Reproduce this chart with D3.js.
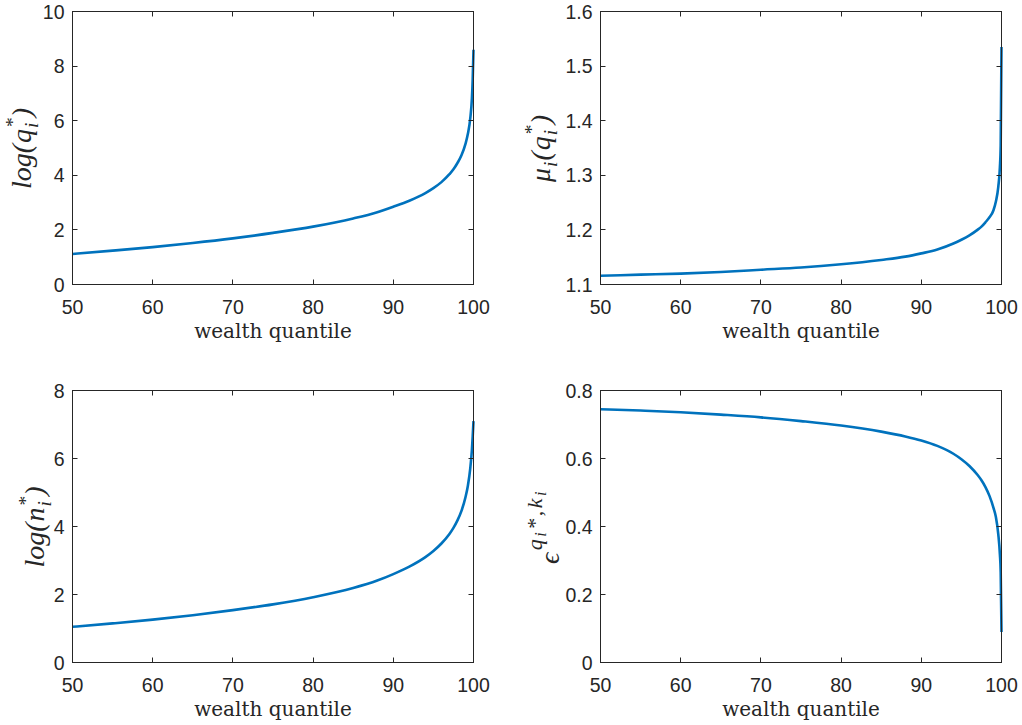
<!DOCTYPE html>
<html>
<head>
<meta charset="utf-8">
<script src="https://cdn.jsdelivr.net/npm/d3@7"></script>
<style>
html,body{margin:0;padding:0;background:#fff;}
svg{display:block;}
</style>
</head>
<body>
<svg id="chart" width="1022" height="725"></svg>
<script>
// ---------- data ----------
const quantiles = [50,55,60,65,70,75,80,85,88,90,92,94,95,96,97,97.5,98,98.5,99,99.3,99.6,99.8,99.9,100];
const logQ   = [1.12,1.24,1.37,1.52,1.69,1.89,2.12,2.42,2.65,2.85,3.07,3.35,3.53,3.75,4.04,4.22,4.45,4.73,5.15,5.52,6.09,6.81,7.52,8.60];
const muQ    = [1.116,1.118,1.120,1.123,1.127,1.131,1.137,1.145,1.151,1.157,1.164,1.175,1.182,1.190,1.200,1.206,1.214,1.223,1.236,1.252,1.279,1.315,1.355,1.535];
const logN   = [1.05,1.15,1.26,1.39,1.54,1.71,1.92,2.19,2.41,2.60,2.82,3.10,3.28,3.50,3.78,3.96,4.18,4.46,4.86,5.20,5.72,6.25,6.65,7.10];
const epsQK  = [0.745,0.741,0.736,0.729,0.721,0.710,0.697,0.679,0.665,0.653,0.637,0.614,0.598,0.578,0.552,0.536,0.516,0.490,0.455,0.428,0.377,0.318,0.265,0.09];

const xTicks = [50,60,70,80,90,100];
const yTicksTL = [0,2,4,6,8,10];
const yTicksTR = [1.1,1.2,1.3,1.4,1.5,1.6];
const yTicksBL = [0,2,4,6,8];
const yTicksBR = [0,0.2,0.4,0.6,0.8];
const xLabel = "wealth quantile";

// ---------- layout ----------
const svg = d3.select("#chart");
const axisColor = "#262626";
const lineColor = "#0072BD";
const tickFont = "'Liberation Sans', Arial, sans-serif";
const labelFont = "'DejaVu Serif', serif";
const mathFont = "'Liberation Serif', 'Times New Roman', serif";
const F = 28; // math label font size
const fmtDec = d => d === 0 ? "0" : d3.format(".1f")(d);

const panels = [
  {x0:72.5, x1:473.5, y0:11.5, y1:284.5, y:logQ, yd:[0,10], yt:yTicksTL, fmt:d3.format("d"), labX:31, gap:1,
   label:[{t:"log(",g:0},{t:"q",g:1},{t:"i",g:2,s:0.7,dy:0.25},{t:"*",g:2,s:0.7,dy:-0.42},{t:")",g:3}]},
  {x0:600.5, x1:1001.5, y0:11.5, y1:284.5, y:muQ, yd:[1.1,1.6], yt:yTicksTR, fmt:d3.format(".1f"), labX:550, gap:1,
   label:[{t:"\u03bc",g:0},{t:"i",g:1,s:0.7,dy:0.25},{t:"(",g:2},{t:"q",g:3},{t:"i",g:4,s:0.7,dy:0.25},{t:"*",g:4,s:0.7,dy:-0.42},{t:")",g:5}]},
  {x0:72.5, x1:473.5, y0:390.5, y1:662.5, y:logN, yd:[0,8], yt:yTicksBL, fmt:d3.format("d"), labX:44, gap:1,
   label:[{t:"log(",g:0},{t:"n",g:1},{t:"i",g:2,s:0.7,dy:0.25},{t:"*",g:2,s:0.7,dy:-0.42},{t:")",g:3}]},
  {x0:600.5, x1:1001.5, y0:390.5, y1:662.5, y:epsQK, yd:[0,0.8], yt:yTicksBR, fmt:fmtDec, labX:559, gap:2.5,
   label:[{t:"\u03f5",g:0},{t:"q",g:1,s:0.78,dy:-0.6},{t:"i",g:2,s:0.58,dy:-0.45},{t:"*",g:3,s:0.78,dy:-0.62},{t:",",g:4,s:0.78,dy:-0.6},{t:"k",g:5,s:0.78,dy:-0.6},{t:"i",g:6,s:0.58,dy:-0.45}]}
];

panels.forEach(p => {
  const x = d3.scaleLinear().domain([50,100]).range([p.x0,p.x1]);
  const y = d3.scaleLinear().domain(p.yd).range([p.y1,p.y0]);
  const g = svg.append("g");

  // curve
  const pts = quantiles.map((q,i)=>[q,p.y[i]]);
  g.append("path").datum(pts)
    .attr("fill","none").attr("stroke",lineColor).attr("stroke-width",2.6)
    .attr("stroke-linejoin","round")
    .attr("d", d3.line().x(d=>x(d[0])).y(d=>y(d[1])).curve(d3.curveMonotoneX));

  // box
  g.append("rect").attr("x",p.x0).attr("y",p.y0).attr("width",p.x1-p.x0).attr("height",p.y1-p.y0)
    .attr("fill","none").attr("stroke",axisColor).attr("stroke-width",1);

  const tl = 5;
  xTicks.forEach(t => {
    const xx = Math.round(x(t)-0.5)+0.5;
    g.append("line").attr("x1",xx).attr("x2",xx).attr("y1",p.y1).attr("y2",p.y1-tl).attr("stroke",axisColor);
    g.append("line").attr("x1",xx).attr("x2",xx).attr("y1",p.y0).attr("y2",p.y0+tl).attr("stroke",axisColor);
    g.append("text").attr("x",x(t)).attr("y",p.y1+29).attr("text-anchor","middle")
      .attr("font-family",tickFont).attr("font-size",19.5).attr("fill",axisColor).text(t);
  });
  p.yt.forEach(t => {
    const yy = Math.round(y(t)-0.5)+0.5;
    g.append("line").attr("x1",p.x0).attr("x2",p.x0+tl).attr("y1",yy).attr("y2",yy).attr("stroke",axisColor);
    g.append("line").attr("x1",p.x1).attr("x2",p.x1-tl).attr("y1",yy).attr("y2",yy).attr("stroke",axisColor);
    g.append("text").attr("x",p.x0-8).attr("y",y(t)+7).attr("text-anchor","end")
      .attr("font-family",tickFont).attr("font-size",19.5).attr("fill",axisColor).text(p.fmt(t));
  });

  // x label
  g.append("text").attr("x",(p.x0+p.x1)/2).attr("y",p.y1+53).attr("text-anchor","middle")
    .attr("font-family",labelFont).attr("font-size",20).attr("fill",axisColor).text(xLabel);

  // y label (math)
  const lg = g.append("g");
  const inner = lg.append("g");
  let cx = 0; const groups = {};
  p.label.forEach(tok => { (groups[tok.g] = groups[tok.g] || []).push(tok); });
  Object.keys(groups).map(Number).sort((a,b)=>a-b).forEach(k => {
    let maxW = 0;
    groups[k].forEach(tok => {
      const s = tok.s || 1;
      const el = inner.append("text").attr("x",cx).attr("y",(tok.dy||0)*F)
        .attr("font-family",mathFont).attr("font-style","italic")
        .attr("font-size",F*s).attr("fill",axisColor).text(tok.t);
      maxW = Math.max(maxW, el.node().getComputedTextLength());
    });
    cx += maxW + p.gap;
  });
  const cy = (p.y0+p.y1)/2;
  lg.attr("transform",`translate(${p.labX},${cy}) rotate(-90) translate(${-cx/2},0)`);
});
</script>
</body>
</html>
